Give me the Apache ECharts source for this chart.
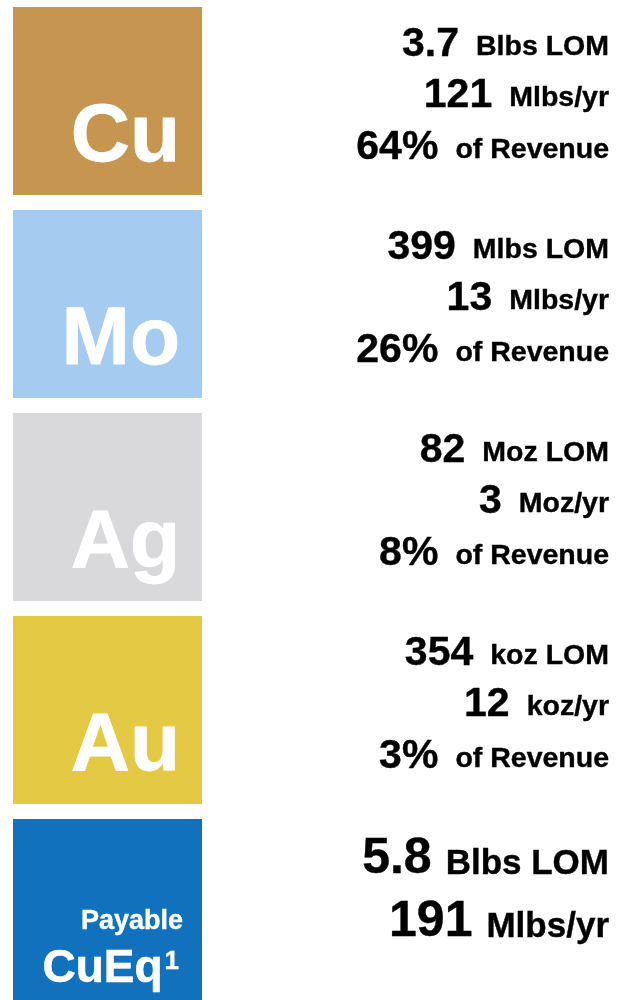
<!DOCTYPE html>
<html lang="en">
<head>
<meta charset="UTF-8">
<title>Metals summary</title>
<script src="https://cdn.jsdelivr.net/npm/echarts@6.0.0/dist/echarts.min.js"></script>
<style>html, body { margin: 0; padding: 0; background: #fff; }</style>
</head>
<body>
<div id="main" style="width: 618px;height:1000px;"></div>

<script type="text/javascript">
    // data
    var metals = ['Cu', 'Mo', 'Ag', 'Au', 'CuEq'];
    var boxColors = ['#C6954F', '#A5CBF1', '#D9D9DB', '#E4C944', '#1271BD'];
    var boxFill = [1, 1, 1, 1, 1];
    var lomValues = ['3.7', '399', '82', '354', '5.8'];
    var lomUnits = ['Blbs LOM', 'Mlbs LOM', 'Moz LOM', 'koz LOM', 'Blbs LOM'];
    var yearValues = ['121', '13', '3', '12', '191'];
    var yearUnits = ['Mlbs/yr', 'Mlbs/yr', 'Moz/yr', 'koz/yr', 'Mlbs/yr'];
    var revenueShare = ['64%', '26%', '8%', '3%', null];

    var FONT = '"Liberation Sans", Arial, sans-serif';
    var last = metals.length - 1;

    function tok(size, h, extra) {
        var s = {fontSize: size, height: h, fontWeight: 'bold', fontFamily: FONT, color: '#000',
            verticalAlign: 'bottom', textBorderColor: '#000', textBorderWidth: 0.4};
        for (var k in extra) s[k] = extra[k];
        return s;
    }

    // rich styles for the right-hand text (n/u normal rows, N/U the CuEq row)
    // unit height is chosen so the two font sizes share one baseline
    var richText = {
        n: tok(41, 41, {}),
        u: tok(28.5, 36.5, {padding: [0, 0, 0, 17]}),
        N: tok(50, 50, {}),
        U: tok(35, 40.5, {padding: [0, 0, 0, 14]})
    };

    function textSeries(name, values, units, offsets, lastOffset) {
        var data = [];
        for (var i = 0; i < values.length; i++) {
            if (values[i] === null) continue;
            var item = {value: [1, i]};
            item.label = {offset: i === last ? [0, lastOffset] : [0, offsets]};
            data.push(item);
        }
        return {
            name: name,
            type: 'scatter',
            xAxisIndex: 1,
            yAxisIndex: 1,
            symbolSize: 0,
            silent: true,
            itemStyle: {opacity: 1},
            data: data,
            label: {
                show: true,
                position: 'left',
                distance: 0,
                opacity: 1,
                color: '#000',
                fontSize: 28,
                fontWeight: 'bold',
                fontFamily: FONT,
                rich: richText,
                formatter: function (p) {
                    var i = p.value[1];
                    var big = i === last;
                    return '{' + (big ? 'N' : 'n') + '|' + values[i] + '}{' + (big ? 'U' : 'u') + '|' + units[i] + '}';
                }
            }
        };
    }

    var revUnits = revenueShare.map(function (v) { return v === null ? null : 'of Revenue'; });

    var boxData = boxFill.map(function (v, i) {
        var item = {value: v, itemStyle: {color: boxColors[i]}};
        if (i === last) {
            item.label = {
                offset: [-19, -15],
                formatter: '{p|Payable}\n{c|CuEq}{s|1}'
            };
        }
        return item;
    });

    var myChart = echarts.init(document.getElementById('main'));
    var option = {
        animation: false,
        grid: [
            {left: 13, width: 189, top: -0.5, height: 1015, outerBoundsMode: 'none', containLabel: false},
            {left: 202, right: 9, top: -0.5, height: 1015, outerBoundsMode: 'none', containLabel: false}
        ],
        xAxis: [
            {gridIndex: 0, type: 'value', min: 0, max: 1, show: false},
            {gridIndex: 1, type: 'value', min: 0, max: 1, show: false}
        ],
        yAxis: [
            {gridIndex: 0, type: 'category', inverse: true, data: metals, show: false},
            {gridIndex: 1, type: 'category', inverse: true, data: metals, show: false}
        ],
        series: [
            {
                name: 'box',
                type: 'bar',
                barWidth: 188,
                silent: true,
                data: boxData,
                label: {
                    show: true,
                    position: 'insideBottomRight',
                    distance: 0,
                    offset: [-22, -16],
                    color: '#fff',
                    textBorderColor: '#fff',
                    textBorderWidth: 0.8,
                    fontSize: 82,
                    lineHeight: 82,
                    fontWeight: 'bold',
                    fontFamily: FONT,
                    formatter: '{b}',
                    rich: {
                        p: {fontSize: 27, lineHeight: 49, fontWeight: 'bold', fontFamily: FONT, color: '#fff', textBorderColor: '#fff', textBorderWidth: 0.4},
                        c: {fontSize: 46, lineHeight: 46, fontWeight: 'bold', fontFamily: FONT, color: '#fff', textBorderColor: '#fff', textBorderWidth: 0.6},
                        s: {fontSize: 26, lineHeight: 30, height: 32, fontWeight: 'bold', fontFamily: FONT, color: '#fff', textBorderColor: '#fff', textBorderWidth: 0.4,
                            verticalAlign: 'top', padding: [0, 4, 0, 2]}
                    }
                }
            },
            textSeries('lom', lomValues, lomUnits, -56, -53.3),
            textSeries('year', yearValues, yearUnits, -5, 9.7),
            textSeries('revenue', revenueShare, revUnits, 47, 0)
        ]
    };

    myChart.setOption(option);
</script>
</body>
</html>
